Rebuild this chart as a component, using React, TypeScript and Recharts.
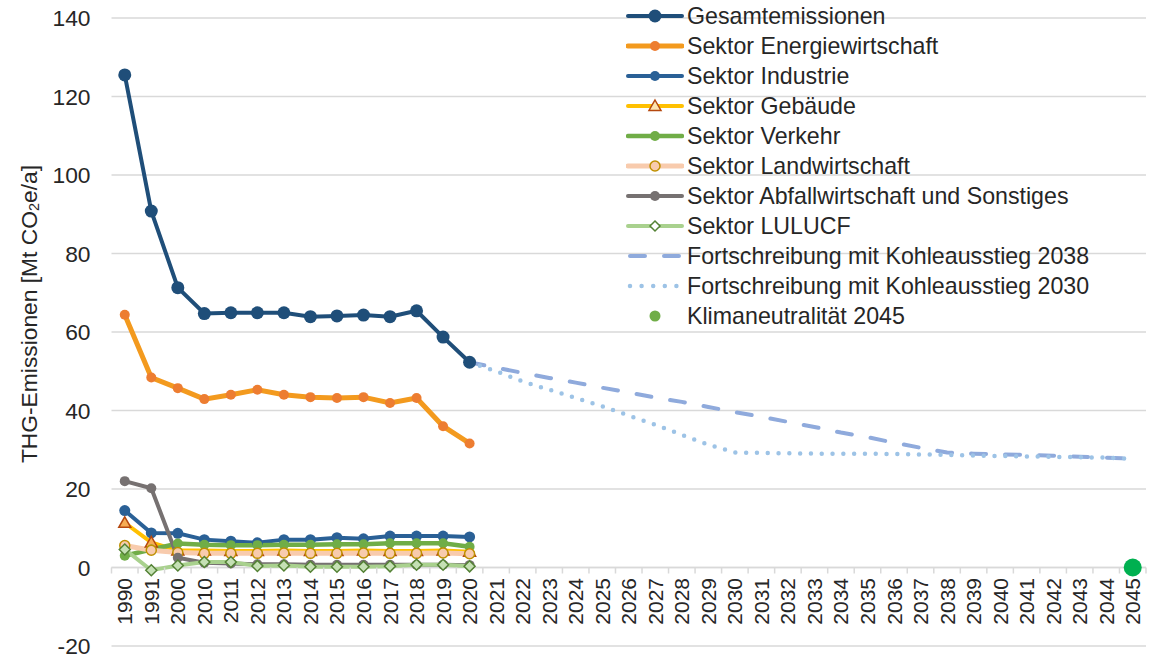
import { LineChart, Line, XAxis, YAxis, CartesianGrid, ReferenceLine, Legend } from 'recharts';

const years = [
  '1990', '1991', '2000', '2010', '2011', '2012', '2013', '2014', '2015', '2016', '2017', '2018', '2019', '2020',
  '2021', '2022', '2023', '2024', '2025', '2026', '2027', '2028', '2029', '2030', '2031', '2032', '2033',
  '2034', '2035', '2036', '2037', '2038', '2039', '2040', '2041', '2042', '2043', '2044', '2045',
];

// 1990 .. 2020 (14 values)
const gesamt = [125.5, 90.8, 71.3, 64.7, 64.9, 64.9, 64.9, 63.9, 64.1, 64.3, 63.9, 65.4, 58.7, 52.3];
const energie = [64.4, 48.4, 45.7, 42.9, 44.0, 45.3, 44.0, 43.4, 43.2, 43.4, 41.9, 43.2, 36.0, 31.6];
const industrie = [14.5, 8.8, 8.7, 7.1, 6.7, 6.3, 7.1, 7.1, 7.6, 7.3, 8.0, 8.0, 8.0, 7.8];
const gebaeude = [11.4, 6.4, 4.3, 4.3, 4.2, 4.2, 4.3, 4.2, 4.2, 4.3, 4.2, 4.2, 4.3, 4.0];
const verkehr = [3.0, 4.6, 6.1, 5.8, 5.7, 5.7, 5.8, 5.8, 5.9, 5.9, 6.2, 6.2, 6.2, 5.3];
const landwirtschaft = [5.6, 4.4, 3.8, 3.6, 3.6, 3.6, 3.7, 3.6, 3.6, 3.7, 3.6, 3.6, 3.7, 3.5];
const abfall = [22.0, 20.2, 2.5, 1.2, 1.0, 0.8, 0.8, 0.7, 0.7, 0.7, 0.7, 0.7, 0.7, 0.6];
const lulucf = [4.6, -0.7, 0.5, 1.4, 1.4, 0.4, 0.5, 0.2, 0.2, 0.2, 0.3, 0.7, 0.7, 0.3];

// 2020 .. 2045 (26 values)
const kohle2038 = [52.3, 50.9, 49.6, 48.3, 47.1, 45.8, 44.6, 43.3, 42.2, 40.9, 39.6, 38.4, 37.1, 35.8, 34.4, 33.2,
  31.8, 30.5, 29.3, 29.0, 28.8, 28.7, 28.5, 28.2, 28.0, 27.7];
const kohle2030 = [52.3, 50.0, 47.4, 45.3, 43.2, 41.1, 38.7, 36.4, 33.8, 31.3, 29.3, 29.2, 29.1, 29.0, 29.0, 29.0,
  28.9, 28.8, 28.7, 28.5, 28.4, 28.3, 28.2, 28.1, 28.0, 27.7];

const klimaneutral = [{ year: '2045', value: 0 }];

const yTicks = [-20, 0, 20, 40, 60, 80, 100, 120, 140];

const W = 1151;
const H = 659;
const X_AXIS_H = 13;
const MARGIN = { top: 18, right: 5, bottom: 0, left: 0 };
const Y_AXIS_W = 111.5;
const PLOT_H = H - MARGIN.top - MARGIN.bottom - X_AXIS_H;
const PLOT_W = W - MARGIN.left - MARGIN.right - Y_AXIS_W;
const STEP = PLOT_W / years.length;
const Y_MIN = -20;
const Y_MAX = 140;
const FONT = '"Liberation Sans", Arial, sans-serif';
const TEXT = '#262626';
const GRID = '#d9d9d9';

const projStart = years.indexOf('2020');

const data = years.map((year, i) => {
  const h = (arr: number[]) => (i < arr.length ? arr[i] : null);
  const p = (arr: number[]) => (i >= projStart ? arr[i - projStart] : null);
  const k = klimaneutral.find((d) => d.year === year);
  return {
    year,
    gesamt: h(gesamt),
    energie: h(energie),
    industrie: h(industrie),
    gebaeude: h(gebaeude),
    verkehr: h(verkehr),
    landwirtschaft: h(landwirtschaft),
    abfall: h(abfall),
    lulucf: h(lulucf),
    kohle2038: p(kohle2038),
    kohle2030: p(kohle2030),
    klima: k ? k.value : null,
  };
});

const C = {
  gesamt: '#1f4e79',
  energieLine: '#f39a1e',
  energieDot: '#ed7d31',
  industrie: '#2a6096',
  gebaeude: '#ffc000',
  gebaeudeFill: '#f6ad55',
  gebaeudeStroke: '#b5480f',
  verkehr: '#70ad47',
  landLine: '#f8cbad',
  landStroke: '#bf9000',
  abfall: '#767171',
  lulucfLine: '#a9d18e',
  lulucfFill: '#c5e0b4',
  lulucfStroke: '#548235',
  k2038: '#8faadc',
  k2030: '#9dc3e6',
  klima: '#00b050',
  klimaLegend: '#70ad47',
};

const Triangle = (props: any) => {
  const { cx, cy, index } = props;
  if (cx == null || cy == null || props.value == null) return <g key={index} />;
  const s = 6;
  return (
    <path
      key={index}
      d={`M${cx},${cy - s} L${cx + s},${cy + s * 0.75} L${cx - s},${cy + s * 0.75} Z`}
      fill={C.gebaeudeFill}
      stroke={C.gebaeudeStroke}
      strokeWidth={1.5}
    />
  );
};

const Diamond = (props: any) => {
  const { cx, cy, index } = props;
  if (cx == null || cy == null || props.value == null) return <g key={index} />;
  const s = 5.5;
  return (
    <path
      key={index}
      d={`M${cx},${cy - s} L${cx + s},${cy} L${cx},${cy + s} L${cx - s},${cy} Z`}
      fill={C.lulucfFill}
      stroke={C.lulucfStroke}
      strokeWidth={1.5}
    />
  );
};

const XTick = (props: any) => {
  const { x, y, payload, index } = props;
  const zeroY = y - (PLOT_H * (0 - Y_MIN)) / (Y_MAX - Y_MIN);
  const last = index === years.length - 1;
  return (
    <g>
      <line x1={x - STEP / 2} x2={x - STEP / 2} y1={zeroY} y2={zeroY + 6} stroke={GRID} strokeWidth={1.5} />
      {last && <line x1={x + STEP / 2} x2={x + STEP / 2} y1={zeroY} y2={zeroY + 6} stroke={GRID} strokeWidth={1.5} />}
      <text
        transform={`translate(${x},${zeroY + 10.5}) rotate(-90)`}
        textAnchor="end"
        dominantBaseline="central"
        fontSize={21}
        fontFamily={FONT}
        fill={TEXT}
      >
        {payload.value}
      </text>
    </g>
  );
};

const YLabel = () => (
  <text
    transform="translate(29,314) rotate(-90)"
    textAnchor="middle"
    dominantBaseline="central"
    fontSize={22.8}
    fontFamily={FONT}
    fill={TEXT}
  >
    THG-Emissionen [Mt CO
    <tspan fontSize={14.5} dy={5}>2</tspan>
    <tspan dy={-5}>e/a]</tspan>
  </text>
);

type LegendRow = {
  label: string;
  icon: () => any;
};

const lineIcon = (color: string, width: number) => (
  <line x1={2} x2={56} y1={15} y2={15} stroke={color} strokeWidth={width} strokeLinecap="round" />
);

const legendRows: LegendRow[] = [
  { label: 'Gesamtemissionen', icon: () => <>{lineIcon(C.gesamt, 4)}<circle cx={29} cy={15} r={6.5} fill={C.gesamt} /></> },
  { label: 'Sektor Energiewirtschaft', icon: () => <>{lineIcon(C.energieLine, 5)}<circle cx={29} cy={15} r={5} fill={C.energieDot} /></> },
  { label: 'Sektor Industrie', icon: () => <>{lineIcon(C.industrie, 4)}<circle cx={29} cy={15} r={5} fill={C.industrie} /></> },
  {
    label: 'Sektor Gebäude',
    icon: () => (
      <>
        {lineIcon(C.gebaeude, 4)}
        <path d="M29,9 L35,19.5 L23,19.5 Z" fill="#fce4b0" stroke={C.gebaeudeStroke} strokeWidth={1.5} />
      </>
    ),
  },
  { label: 'Sektor Verkehr', icon: () => <>{lineIcon(C.verkehr, 4.5)}<circle cx={29} cy={15} r={5} fill={C.verkehr} /></> },
  {
    label: 'Sektor Landwirtschaft',
    icon: () => (
      <>
        {lineIcon(C.landLine, 5)}
        <circle cx={29} cy={15} r={5} fill={C.landLine} stroke={C.landStroke} strokeWidth={1.5} />
      </>
    ),
  },
  { label: 'Sektor Abfallwirtschaft und Sonstiges', icon: () => <>{lineIcon(C.abfall, 4)}<circle cx={29} cy={15} r={5} fill={C.abfall} /></> },
  {
    label: 'Sektor LULUCF',
    icon: () => (
      <>
        {lineIcon(C.lulucfLine, 4)}
        <path d="M29,10 L34,15 L29,20 L24,15 Z" fill="#ffffff" stroke={C.lulucfStroke} strokeWidth={1.5} />
      </>
    ),
  },
  {
    label: 'Fortschreibung mit Kohleausstieg 2038',
    icon: () => (
      <line x1={4} x2={56} y1={15} y2={15} stroke={C.k2038} strokeWidth={4} strokeLinecap="round" strokeDasharray="15 19" />
    ),
  },
  {
    label: 'Fortschreibung mit Kohleausstieg 2030',
    icon: () => (
      <line x1={4} x2={56} y1={15} y2={15} stroke={C.k2030} strokeWidth={4.5} strokeLinecap="round" strokeDasharray="0 11.6" />
    ),
  },
  { label: 'Klimaneutralität 2045', icon: () => <circle cx={29} cy={15} r={5.5} fill={C.klimaLegend} /> },
];

const renderLegend = () => (
  <div style={{ fontFamily: FONT, fontSize: 23.2, color: TEXT }}>
    {legendRows.map((row) => (
      <div key={row.label} style={{ display: 'flex', alignItems: 'center', height: 30, whiteSpace: 'nowrap' }}>
        <svg width={58} height={30} style={{ marginRight: 3, flex: 'none' }}>
          {row.icon()}
        </svg>
        <span>{row.label}</span>
      </div>
    ))}
  </div>
);

export default function App() {
  return (
    <div style={{ position: 'absolute', left: 0, top: 0, width: W, height: H, background: '#fff' }}>
      <LineChart width={W} height={H} data={data} margin={MARGIN}>
        <CartesianGrid vertical={false} stroke={GRID} strokeWidth={1.5} />
        <XAxis
          dataKey="year"
          interval={0}
          axisLine={false}
          tickLine={false}
          tickSize={0}
          tickMargin={0}
          height={X_AXIS_H}
          padding={{ left: STEP / 2, right: STEP / 2 }}
          tick={<XTick />}
        />
        <YAxis
          type="number"
          domain={[Y_MIN, Y_MAX]}
          ticks={yTicks}
          width={Y_AXIS_W}
          axisLine={false}
          tickLine={false}
          tickMargin={15}
          tick={{ fontSize: 22.8, fill: TEXT, fontFamily: FONT }}
          label={<YLabel />}
        />
        <ReferenceLine y={0} stroke={GRID} strokeWidth={1.5} />
        <Legend
          layout="vertical"
          align="center"
          verticalAlign="middle"
          wrapperStyle={{ top: 1, left: 626, width: 525 }}
          content={renderLegend}
        />
        <Line type="linear" dataKey="gesamt" stroke={C.gesamt} strokeWidth={4} dot={{ r: 6.5, fill: C.gesamt, stroke: 'none' }} isAnimationActive={false} />
        <Line type="linear" dataKey="energie" stroke={C.energieLine} strokeWidth={5} dot={{ r: 5, fill: C.energieDot, stroke: 'none' }} isAnimationActive={false} />
        <Line type="linear" dataKey="industrie" stroke={C.industrie} strokeWidth={4} dot={{ r: 5.5, fill: C.industrie, stroke: 'none' }} isAnimationActive={false} />
        <Line type="linear" dataKey="gebaeude" stroke={C.gebaeude} strokeWidth={4} dot={Triangle} isAnimationActive={false} />
        <Line type="linear" dataKey="verkehr" stroke={C.verkehr} strokeWidth={4.5} dot={{ r: 5, fill: C.verkehr, stroke: 'none' }} isAnimationActive={false} />
        <Line type="linear" dataKey="landwirtschaft" stroke={C.landLine} strokeWidth={5} dot={{ r: 5, fill: C.landLine, stroke: C.landStroke, strokeWidth: 1.5 }} isAnimationActive={false} />
        <Line type="linear" dataKey="abfall" stroke={C.abfall} strokeWidth={4} dot={{ r: 5, fill: C.abfall, stroke: 'none' }} isAnimationActive={false} />
        <Line type="linear" dataKey="lulucf" stroke={C.lulucfLine} strokeWidth={4} dot={Diamond} isAnimationActive={false} />
        <Line type="linear" dataKey="kohle2038" stroke={C.k2038} strokeWidth={4} strokeDasharray="15 19" strokeLinecap="round" dot={false} isAnimationActive={false} />
        <Line type="linear" dataKey="kohle2030" stroke={C.k2030} strokeWidth={4.5} strokeDasharray="0 10.8" strokeLinecap="round" dot={false} isAnimationActive={false} />
        <Line type="linear" dataKey="klima" stroke="none" dot={{ r: 9, fill: C.klima, stroke: 'none' }} isAnimationActive={false} />
      </LineChart>
    </div>
  );
}
